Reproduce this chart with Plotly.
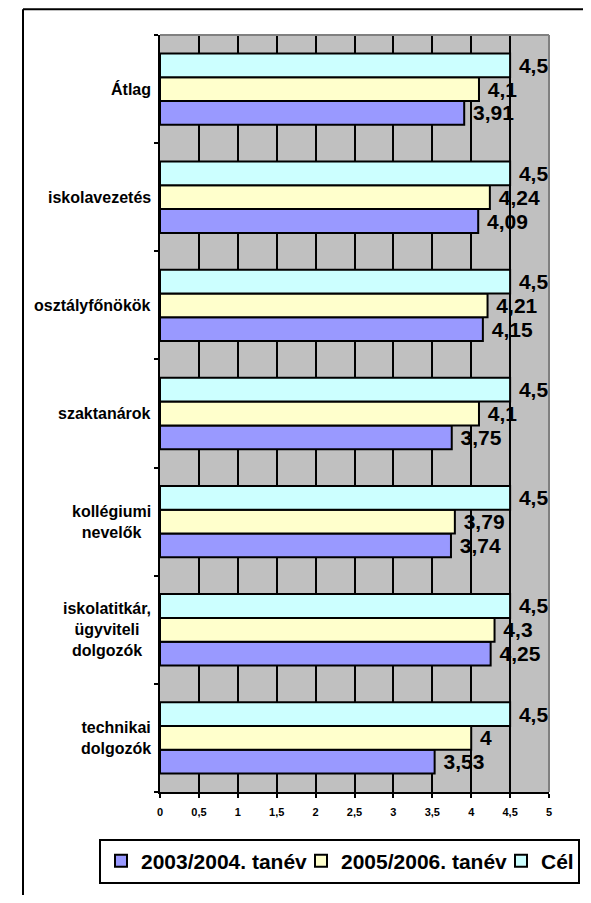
import plotly.graph_objects as go

categories = ["Átlag", "iskolavezetés", "osztályfőnökök", "szaktanárok",
              "kollégiumi<br>nevelők", "iskolatitkár,<br>ügyviteli<br>dolgozók",
              "technikai<br>dolgozók"]
series_names = ["2003/2004. tanév", "2005/2006. tanév", "Cél"]
values_0304 = [3.91, 4.09, 4.15, 3.75, 3.74, 4.25, 3.53]
values_0506 = [4.1, 4.24, 4.21, 4.1, 3.79, 4.3, 4.0]
values_cel = [4.5, 4.5, 4.5, 4.5, 4.5, 4.5, 4.5]
colors = ["#9999FF", "#FFFFCC", "#CCFFFF"]
legend_widths = [155, 155, 32]
x_ticks = [0, 0.5, 1, 1.5, 2, 2.5, 3, 3.5, 4, 4.5, 5]

FONT = "Liberation Sans, Arial, sans-serif"

def fmt(v):
    return f"{v:g}".replace(".", ",")

fig = go.Figure()
for name, vals, col, lw in zip(series_names, [values_0304, values_0506, values_cel],
                               colors, legend_widths):
    fig.add_trace(go.Bar(
        y=categories, x=vals, name=name, orientation="h",
        marker=dict(color=col, line=dict(color="black", width=2)),
        text=[" " + fmt(v) for v in vals], textposition="outside",
        textfont=dict(family=FONT, size=21, color="black", weight="bold"),
        constraintext="none", cliponaxis=False, hoverinfo="skip",
        legendwidth=lw,
    ))

# the page body has an 8px margin; figure sized to fit the 591x903 window
OFF = 8
W, H = 591 - 2 * OFF, 903 - 2 * OFF
L, R, T, B = 152, 34, 27, 95
pw, ph = W - L - R, H - T - B

def px_x(s):
    return (s - OFF - L) / pw

def px_y(s):
    return (H - B - (s - OFF)) / ph

shapes = [
    # outer frame (left and top visible)
    dict(type="line", xref="paper", yref="paper", x0=px_x(23), x1=px_x(23),
         y0=px_y(9), y1=px_y(920), line=dict(color="black", width=2)),
    dict(type="line", xref="paper", yref="paper", x0=px_x(23), x1=px_x(620),
         y0=px_y(9), y1=px_y(9), line=dict(color="black", width=2)),
    # plot area border (top and right gray)
    dict(type="line", xref="paper", yref="paper", x0=0, x1=1, y0=1, y1=1,
         line=dict(color="#808080", width=2), layer="above"),
    dict(type="line", xref="paper", yref="paper", x0=1, x1=1, y0=0, y1=1,
         line=dict(color="#808080", width=2), layer="above"),
]

annotations = [
    dict(x=0, xref="paper", y=c, yref="y", text=f"<b>{c}</b>", showarrow=False,
         xanchor="right", yanchor="middle", xshift=-7, align="center",
         font=dict(family=FONT, size=16, color="black"))
    for c in categories
]

fig.update_layout(
    width=W, height=H,
    margin=dict(l=L, r=R, t=T, b=B),
    paper_bgcolor="white", plot_bgcolor="#C0C0C0",
    separators=",.",
    barmode="group", bargap=0.34, bargroupgap=0,
    font=dict(family=FONT, color="black"),
    xaxis=dict(range=[0, 5], tickvals=x_ticks, ticktext=[fmt(v) for v in x_ticks],
               showgrid=True, gridcolor="black", gridwidth=2,
               showline=True, linecolor="black", linewidth=2,
               ticks="outside", ticklen=4, tickwidth=2, tickcolor="black",
               ticklabelstandoff=5,
               tickfont=dict(family=FONT, size=11, color="black", weight="bold"),
               zeroline=False, fixedrange=True),
    yaxis=dict(type="category", categoryorder="array",
               categoryarray=list(reversed(categories)),
               showgrid=False, showline=True, linecolor="black", linewidth=2,
               ticks="outside", ticklen=4, tickwidth=2, tickcolor="black",
               tickson="boundaries", showticklabels=False, fixedrange=True),
    legend=dict(orientation="h", x=px_x(99), xanchor="left",
                y=px_y(847), yanchor="top",
                bordercolor="black", borderwidth=2, bgcolor="white",
                font=dict(family=FONT, size=21, color="black", weight="bold"),
                itemclick=False, itemdoubleclick=False),
    shapes=shapes,
    annotations=annotations,
    showlegend=True,
)

fig.write_html("out.html")
